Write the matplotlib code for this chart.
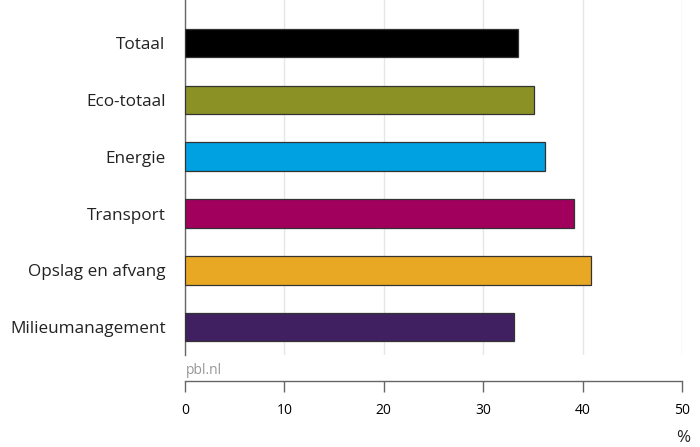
import matplotlib
matplotlib.use("Agg")
import matplotlib.pyplot as plt

categories = ["Totaal", "Eco-totaal", "Energie", "Transport", "Opslag en afvang", "Milieumanagement"]
values = [33.5, 35.1, 36.2, 39.1, 40.8, 33.1]
colors = ["#000000", "#8c9126", "#00a1e1", "#a1005d", "#e8a823", "#402060"]
xticks = [0, 10, 20, 30, 40, 50]

plt.rcParams['font.family'] = ['Open Sans', 'DejaVu Sans']

fig = plt.figure(figsize=(7.0, 4.47), dpi=100)
ax = fig.add_axes([185/700, 1-355/447, 497/700, 355/447])

pos = list(range(len(categories)))
ax.barh(pos, values, height=0.5, color=colors, edgecolor="#333333", linewidth=0.9, zorder=3)
ax.set_ylim(5.49, -0.757)
ax.set_xlim(0, 50)
ax.set_yticks(pos)
ax.set_yticklabels(categories, fontsize=12.3, color="#222222")
ax.tick_params(axis='y', length=0, pad=14)
ax.set_xticks(xticks)
ax.set_xticklabels([str(t) for t in xticks], fontsize=12.3, color="#222222")
ax.tick_params(axis='x', length=8, width=1, color="#666666", pad=8, direction='out')
ax.xaxis.grid(True, color="#e6e6e6", linewidth=1, zorder=0)
ax.set_axisbelow(True)

for s in ['top', 'right']:
    ax.spines[s].set_visible(False)
ax.spines['left'].set_color("#666666")
ax.spines['left'].set_linewidth(1)
ax.spines['bottom'].set_position(('outward', 18.5))
ax.spines['bottom'].set_color("#666666")
ax.spines['bottom'].set_linewidth(1)

fig.text(186/700, 1-370/447, "pbl.nl", fontsize=10, color="#999999", va='center', ha='left')
fig.text(683/700, 1-438/447, "%", fontsize=12.3, color="#222222", va='center', ha='center')

fig.savefig("out.png", dpi=100)
